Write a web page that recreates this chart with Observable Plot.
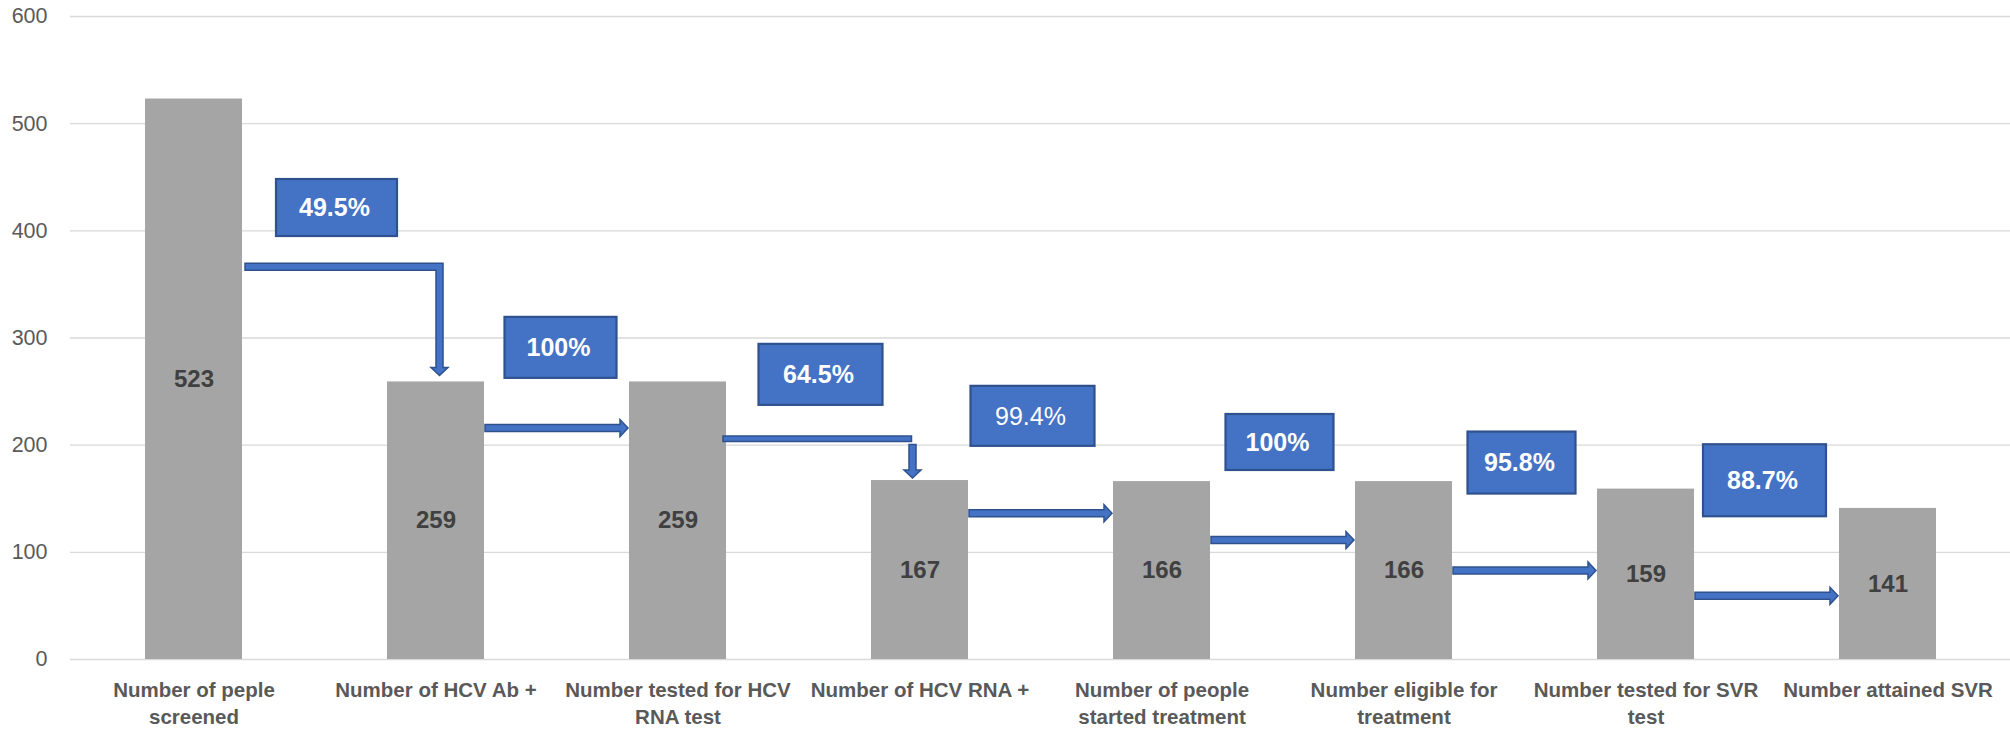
<!DOCTYPE html>
<html><head><meta charset="utf-8">
<script src="https://cdn.jsdelivr.net/npm/d3@7"></script>
<script src="https://cdn.jsdelivr.net/npm/@observablehq/plot@0.6"></script>
<style>
html,body{margin:0;padding:0;background:#fff;}
</style></head><body><div id="chart"></div>
<script>
// ---- data ----
const categories = [
  "Number of peple\nscreened",
  "Number of HCV Ab +",
  "Number tested for HCV\nRNA test",
  "Number of HCV RNA +",
  "Number of people\nstarted treatment",
  "Number eligible for\ntreatment",
  "Number tested for SVR\ntest",
  "Number attained SVR"
];
const counts = [523, 259, 259, 167, 166, 166, 159, 141];
const conversionLabels = ["49.5%", "100%", "64.5%", "99.4%", "100%", "95.8%", "88.7%"];
const yTicks = [0, 100, 200, 300, 400, 500, 600];

// ---- annotation layout (vertical levels in data units) ----
const arrowLevels = [366, 215.5, 205.6, 136, 111, 82.6, 59];
const arrowKinds = ["elbow", "straight", "split", "straight", "straight", "straight", "straight"];
const boxLevels = [421.3, 290.8, 265.6, 226.9, 202.5, 183.3, 166.8];
const boxShift = [22, 4, 22, -8, -3, -3, -2];
const boxSizes = [[121, 57], [112, 61], [124, 61], [124, 60], [108, 56], [108, 62], [123, 72]];
const boxWeights = ["bold", "bold", "bold", "normal", "bold", "bold", "bold"];

const FONT = "'Liberation Sans', Arial, sans-serif";
const data = categories.map((c, i) => ({category: c, count: counts[i]}));

function annotations(index, scales, values, dimensions) {
  const x = scales.x, y = scales.y;
  const bw = typeof x.bandwidth === "function" ? x.bandwidth()
    : (dimensions.width - dimensions.marginLeft - dimensions.marginRight) / categories.length * 0.4;
  const g = d3.create("svg:g");
  const t = 7, headLen = 8, headW = 17;
  const fill = "#4472C4", stroke = "#2F528F";
  const poly = (pts) => g.append("path")
    .attr("d", "M" + pts.map(p => p.join(",")).join("L") + "Z")
    .attr("fill", fill).attr("stroke", stroke).attr("stroke-width", 1.5).attr("stroke-linejoin", "miter");
  for (let i = 0; i < conversionLabels.length; i++) {
    const a = categories[i], b = categories[i + 1];
    const aRight = x(a) + bw, bLeft = x(b), bCenter = x(b) + bw / 2;
    const ly = y(arrowLevels[i]);
    const topB = y(counts[i + 1]);
    const kind = arrowKinds[i];
    if (kind === "straight") {
      const x0 = aRight + 1, x1 = bLeft - 1;
      poly([[x0, ly - t / 2], [x1 - headLen, ly - t / 2], [x1 - headLen, ly - headW / 2], [x1, ly],
            [x1 - headLen, ly + headW / 2], [x1 - headLen, ly + t / 2], [x0, ly + t / 2]]);
    } else if (kind === "elbow") {
      const x0 = aRight + 3, xe = bCenter + 4, tip = topB - 6;
      poly([[x0, ly - t / 2], [xe + t / 2, ly - t / 2], [xe + t / 2, tip - headLen], [xe + headW / 2, tip - headLen],
            [xe, tip], [xe - headW / 2, tip - headLen], [xe - t / 2, tip - headLen], [xe - t / 2, ly + t / 2], [x0, ly + t / 2]]);
    } else if (kind === "split") {
      const x0 = aRight - 3, xv = bCenter - 7, x1 = xv - 1, tip = topB - 2;
      const tt = 5.5;
      poly([[x0, ly - tt / 2], [x1, ly - tt / 2], [x1, ly + tt / 2], [x0, ly + tt / 2]]);
      const y0 = ly + tt / 2 + 3;
      poly([[xv - t / 2, y0], [xv + t / 2, y0], [xv + t / 2, tip - headLen], [xv + headW / 2, tip - headLen],
            [xv, tip], [xv - headW / 2, tip - headLen], [xv - t / 2, tip - headLen]]);
    }
    // percentage box
    const cx = (aRight + bLeft) / 2 + boxShift[i];
    const cy = y(boxLevels[i]);
    const [w, h] = boxSizes[i];
    g.append("rect").attr("x", cx - w / 2).attr("y", cy - h / 2).attr("width", w).attr("height", h)
      .attr("fill", fill).attr("stroke", stroke).attr("stroke-width", 2.2);
    g.append("text").attr("x", cx - 2).attr("y", cy).attr("dy", "0.35em")
      .attr("text-anchor", "middle").attr("fill", "#fff")
      .attr("font-family", FONT).attr("font-size", 25).attr("font-weight", boxWeights[i])
      .text(conversionLabels[i]);
  }
  return g.node();
}

const chart = Plot.plot({
  width: 2010,
  height: 729,
  marginLeft: 70,
  marginRight: 0,
  marginTop: 16,
  marginBottom: 70,
  style: {background: "#fff", fontFamily: FONT, overflow: "visible"},
  x: {domain: categories, paddingInner: 0.6, paddingOuter: 0.3, axis: null},
  y: {domain: [0, 600]},
  marks: [
    Plot.ruleY(yTicks, {stroke: "#d9d9d9", strokeWidth: 1.4}),
    Plot.axisY(yTicks, {tickSize: 0, tickPadding: 23, fontSize: 21.5, color: "#595959", label: null}),
    Plot.barY(data, {x: "category", y: "count", fill: "#a5a5a5"}),
    Plot.text(data, {x: "category", y: d => d.count / 2, text: d => String(d.count),
      fontSize: 24, fontWeight: "bold", fill: "#404040"}),
    Plot.text(data, {x: "category", y: () => 0, text: "category", lineAnchor: "top", dy: 18,
      lineHeight: 1.34, fontSize: 20.5, fontWeight: "bold", fill: "#595959"}),
    annotations
  ]
});
document.getElementById("chart").appendChild(chart);
</script>
</body></html>
